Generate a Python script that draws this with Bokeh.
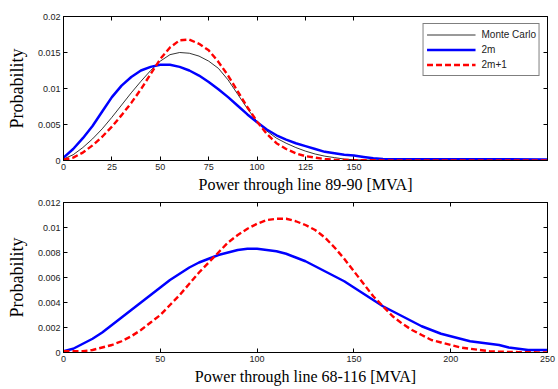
from bokeh.plotting import figure
from bokeh.models import Range1d, LinearAxis, FixedTicker, NumeralTickFormatter, Legend, LegendItem
from bokeh.layouts import column
from bokeh.embed import file_html
from bokeh.resources import INLINE

# ---------------- data: line 89-90 ----------------
top_x = [0, 5, 10, 15, 20, 25, 30, 35, 40, 45, 50, 55, 60, 65, 70, 75, 80, 85, 90, 95,
         100, 105, 110, 115, 120, 125, 130, 135, 140, 145, 150, 155, 160, 165, 250]
top_mc = [0.0002, 0.0008, 0.0018, 0.0030, 0.0044, 0.0060, 0.0077, 0.0094, 0.0110, 0.0125,
          0.0138, 0.0147, 0.0150, 0.0149, 0.0145, 0.0138, 0.0128, 0.0112, 0.0092, 0.0072,
          0.0054, 0.0041, 0.0031, 0.0024, 0.0018, 0.0013, 0.0009, 0.0006, 0.0004, 0.0002,
          0.0001, 0.00007, 0.00005, 0.00004, 0.00003]
top_2m = [0.0004, 0.0016, 0.0031, 0.0048, 0.0068, 0.0088, 0.0104, 0.0116, 0.0125, 0.0130,
          0.0133, 0.0133, 0.0130, 0.0125, 0.0118, 0.0109, 0.0099, 0.0088, 0.0076, 0.0064,
          0.0053, 0.0043, 0.0035, 0.0029, 0.0024, 0.0020, 0.0016, 0.0012, 0.0010, 0.0008,
          0.0007, 0.0005, 0.0003, 0.0002, 0.00015]
top_2m1 = [0.0001, 0.0004, 0.0011, 0.0021, 0.0033, 0.0047, 0.0063, 0.0080, 0.0099, 0.0120,
           0.0141, 0.0157, 0.0167, 0.0168, 0.0162, 0.0153, 0.0137, 0.0118, 0.0096, 0.0074,
           0.0054, 0.0037, 0.0024, 0.0016, 0.0010, 0.0006, 0.0004, 0.0002, 0.0001, 0.00007,
           0.00005, 0.00004, 0.00003, 0.00002, 0.00002]
top_xticks = [0, 25, 50, 75, 100, 125, 150]
top_yticks = [0, 0.005, 0.01, 0.015, 0.02]

# ---------------- data: line 68-116 ----------------
bot_x = [0, 5, 10, 15, 20, 25, 30, 35, 40, 45, 50, 55, 60, 65, 70, 75, 80, 85, 90, 95,
         100, 105, 110, 115, 120, 125, 130, 135, 140, 145, 150, 155, 160, 165, 170, 175,
         180, 185, 190, 195, 200, 205, 210, 215, 220, 225, 230, 235, 240, 245, 250]
bot_2m = [0.0001, 0.0003, 0.0007, 0.0011, 0.0016, 0.0022, 0.0028, 0.0034, 0.0040, 0.0046,
          0.0052, 0.0058, 0.0063, 0.0068, 0.0072, 0.0075, 0.0078, 0.0080, 0.0082, 0.0083,
          0.0083, 0.0082, 0.0081, 0.0079, 0.0076, 0.0073, 0.0069, 0.0065, 0.0061, 0.0057,
          0.0052, 0.0047, 0.0042, 0.0037, 0.0033, 0.0029, 0.0025, 0.0021, 0.0018, 0.0015,
          0.0013, 0.0011, 0.0009, 0.0008, 0.0007, 0.0006, 0.0004, 0.0003, 0.0002, 0.0002,
          0.0002]
bot_2m1 = [0.0001, 0.0001, 0.0001, 0.0002, 0.0004, 0.0006, 0.0009, 0.0013, 0.0018, 0.0024,
           0.0030, 0.0038, 0.0046, 0.0055, 0.0064, 0.0072, 0.0080, 0.0088, 0.0094, 0.0099,
           0.0103, 0.0106, 0.0107, 0.0107, 0.0105, 0.0102, 0.0098, 0.0092, 0.0084, 0.0075,
           0.0065, 0.0055, 0.0045, 0.0037, 0.0029, 0.0023, 0.0018, 0.0014, 0.0010, 0.0008,
           0.0006, 0.0004, 0.0003, 0.0002, 0.0001, 0.00007, 0.00005, 0.00003, 0.00002,
           0.00001, 0.0]
bot_xticks = [0, 50, 100, 150, 200, 250]
bot_yticks = [0, 0.002, 0.004, 0.006, 0.008, 0.01, 0.012]

labels = ["Monte Carlo", "2m", "2m+1"]
top_xlabel = "Power through line 89-90 [MVA]"
bot_xlabel = "Power through line 68-116 [MVA]"
ylabel = "Probability"

SERIF = "Liberation Serif"
SANS = "Liberation Sans"


def style_axis(ax, ticks, show_labels=True):
    ax.ticker = FixedTicker(ticks=ticks)
    ax.minor_tick_line_color = None
    ax.major_tick_in = 4
    ax.major_tick_out = 0
    ax.axis_line_color = "black"
    ax.axis_line_width = 1
    ax.major_tick_line_color = "black"
    if show_labels:
        ax.major_label_text_font = SANS
        ax.major_label_text_font_size = "9px"
        ax.major_label_text_color = "#222222"
        ax.major_label_standoff = 3
        ax.formatter = NumeralTickFormatter(format="0.[000]")
        ax.axis_label_text_font = SERIF
        ax.axis_label_text_font_style = "normal"
        ax.axis_label_text_color = "black"
    else:
        ax.major_label_overrides = {t: "" for t in ticks}
        ax.major_label_text_font_size = "9px"
        ax.major_label_standoff = 0


def make_fig(height, ymax, xticks, yticks, xlabel, top_border, bottom_border):
    p = figure(width=556, height=height, output_backend="svg", toolbar_location=None,
               x_range=Range1d(0, 250), y_range=Range1d(0, ymax),
               min_border_left=63, min_border_right=9,
               min_border_top=top_border, min_border_bottom=bottom_border,
               x_axis_location=None, y_axis_location=None)
    p.xgrid.visible = False
    p.ygrid.visible = False
    p.outline_line_color = "black"
    p.outline_line_width = 1
    p.background_fill_color = "white"
    p.border_fill_color = "white"

    xb = LinearAxis()
    style_axis(xb, xticks)
    xb.axis_label = xlabel
    xb.axis_label_text_font_size = "16px"
    xb.axis_label_standoff = 3
    p.add_layout(xb, "below")

    yl = LinearAxis()
    style_axis(yl, yticks)
    yl.axis_label = ylabel
    yl.axis_label_text_font_size = "18px"
    yl.axis_label_standoff = 8
    p.add_layout(yl, "left")

    xt = LinearAxis()
    style_axis(xt, xticks, show_labels=False)
    p.add_layout(xt, "above")

    yr = LinearAxis()
    style_axis(yr, yticks, show_labels=False)
    p.add_layout(yr, "right")
    return p


# ---- top figure ----
p1 = make_fig(196, 0.02, top_xticks, top_yticks, top_xlabel, 16, 36)
r_mc = p1.line(top_x, top_mc, line_color="black", line_width=0.8)
r_2m = p1.line(top_x, top_2m, line_color="#0000ff", line_width=2.5)
r_2m1 = p1.line(top_x, top_2m1, line_color="#ff0000", line_width=2.4, line_dash="6 3")

legend = Legend(items=[LegendItem(label=labels[0], renderers=[r_mc]),
                       LegendItem(label=labels[1], renderers=[r_2m]),
                       LegendItem(label=labels[2], renderers=[r_2m1])],
                location="top_right")
legend.margin = 7
legend.padding = 3
legend.spacing = 0
legend.glyph_width = 49
legend.glyph_height = 15
legend.label_height = 15
legend.label_width = 50
legend.label_standoff = 6
legend.label_text_font = SANS
legend.label_text_font_size = "10px"
legend.label_text_color = "#222222"
legend.border_line_color = "black"
legend.border_line_width = 1
legend.background_fill_color = "white"
legend.background_fill_alpha = 1.0
p1.add_layout(legend)

# ---- bottom figure ----
p2 = make_fig(193, 0.012, bot_xticks, bot_yticks, bot_xlabel, 6, 37)
p2.line(bot_x, bot_2m, line_color="#0000ff", line_width=2.5)
p2.line(bot_x, bot_2m1, line_color="#ff0000", line_width=2.4, line_dash="6 3")

layout = column(p1, p2, spacing=0)
open("out.html", "w").write(file_html(layout, INLINE))
